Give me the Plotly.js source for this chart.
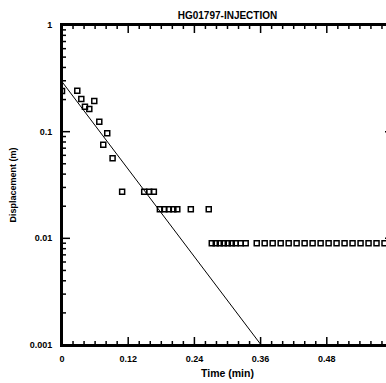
<!DOCTYPE html>
<html>
<head>
<meta charset="utf-8">
<script src="https://cdn.plot.ly/plotly-3.0.1.min.js"></script>
<style>
html, body { margin: 0; padding: 0; overflow: hidden; background: #fff; }
#chart { width: 400px; height: 383px; }
</style>
</head>
<body>
<div id="chart"></div>
<script>
// Observed data (time in min, displacement in m)
const obsTime = [0.0, 0.0277, 0.035, 0.0416, 0.0495, 0.0585, 0.0676, 0.0748, 0.082, 0.0917,
  0.109, 0.149, 0.158, 0.1665,
  0.1774, 0.1855, 0.1937, 0.2018, 0.209, 0.2335, 0.266,
  0.2715, 0.2787, 0.286, 0.2932, 0.3005, 0.3077, 0.3149, 0.324, 0.333,
  0.353, 0.3674, 0.3819, 0.3964, 0.4109, 0.4253, 0.4398, 0.4543, 0.4688, 0.4833,
  0.4977, 0.5122, 0.5267, 0.5412, 0.5557, 0.5701, 0.5846];
const obsDisp = [0.24, 0.242, 0.202, 0.171, 0.163, 0.194, 0.124, 0.0755, 0.0966, 0.0563,
  0.0274, 0.0274, 0.0274, 0.0274,
  0.0187, 0.0187, 0.0187, 0.0187, 0.0187, 0.0187, 0.0187,
  0.009, 0.009, 0.009, 0.009, 0.009, 0.009, 0.009, 0.009, 0.009,
  0.009, 0.009, 0.009, 0.009, 0.009, 0.009, 0.009, 0.009, 0.009, 0.009,
  0.009, 0.009, 0.009, 0.009, 0.009, 0.009, 0.009];

// Fitted straight line
const fitTime = [0.0, 0.361];
const fitDisp = [0.294, 0.001];

// Axis ticks
const xTickVals = [0, 0.12, 0.24, 0.36, 0.48, 0.6];
const xTickText = ['0', '0.12', '0.24', '0.36', '0.48', '0.6'];
const xMinorPerMajor = 6;
const yTickVals = [0.001, 0.01, 0.1, 1];
const yTickText = ['0.001', '0.01', '0.1', '1'];
const yMinorMult = [2, 3, 4, 5, 6, 7, 8, 9];

const titleText = 'HG01797-INJECTION';
const xTitle = 'Time (min)';
const yTitle = 'Displacement (m)';

const XR = [0, 0.6];
const YR = [-3, 0];
const font = { family: 'Liberation Sans, Arial, sans-serif', size: 9, color: '#000', weight: 'bold' };

// derived minor tick positions
const xMinor = [];
for (let i = 0; i < xTickVals.length - 1; i++) {
  const step = (xTickVals[i + 1] - xTickVals[i]) / xMinorPerMajor;
  for (let k = 1; k < xMinorPerMajor; k++) xMinor.push(xTickVals[i] + k * step);
}
const yMinor = [];
for (let i = 0; i < yTickVals.length - 1; i++) yMinorMult.forEach(m => yMinor.push(yTickVals[i] * m));

// tick marks drawn as pixel-sized shapes tied to the axes
const tickLine = { color: '#000', width: 1.5 };
const shapes = [];
function xTick(v, len) {
  shapes.push({ type: 'line', xref: 'x', yref: 'paper', ysizemode: 'pixel', yanchor: 0, x0: v, x1: v, y0: 0, y1: len, line: tickLine, layer: 'above' });
  shapes.push({ type: 'line', xref: 'x', yref: 'paper', ysizemode: 'pixel', yanchor: 1, x0: v, x1: v, y0: 0, y1: -len, line: tickLine, layer: 'above' });
}
function yTick(v, len) {
  shapes.push({ type: 'line', xref: 'paper', yref: 'y', xsizemode: 'pixel', xanchor: 0, x0: 0, x1: len, y0: v, y1: v, line: tickLine, layer: 'above' });
  shapes.push({ type: 'line', xref: 'paper', yref: 'y', xsizemode: 'pixel', xanchor: 1, x0: 0, x1: -len, y0: v, y1: v, line: tickLine, layer: 'above' });
}
xTickVals.forEach(v => xTick(v, 8));
xMinor.forEach(v => xTick(v, 4));
yTickVals.forEach(v => yTick(v, 8));
yMinor.forEach(v => yTick(v, 4));
shapes.push({ type: 'rect', xref: 'paper', yref: 'paper', x0: 0, x1: 1, y0: 0, y1: 1, line: { color: '#000', width: 2 }, layer: 'above' });

const traces = [
  {
    x: fitTime, y: fitDisp, mode: 'lines', type: 'scatter',
    line: { color: '#000', width: 1 }, hoverinfo: 'skip'
  },
  {
    x: obsTime, y: obsDisp, mode: 'markers', type: 'scatter',
    marker: { symbol: 'square-open', size: 5, color: '#000', line: { width: 1.5, color: '#000' } }
  }
];

const layout = {
  width: 400, height: 383,
  margin: { l: 62, r: 6.5, t: 25, b: 38 },
  paper_bgcolor: '#fff', plot_bgcolor: '#fff',
  showlegend: false,
  font: font,
  shapes: shapes,
  title: { text: titleText, font: { family: font.family, size: 10, color: '#000', weight: 'bold' },
           x: 0.5, xref: 'paper', xanchor: 'center', y: 1, yref: 'paper', yanchor: 'bottom', pad: { b: 6 } },
  xaxis: {
    range: XR, autorange: false, showgrid: false, zeroline: false,
    showline: true, linecolor: '#000', linewidth: 2, mirror: true,
    ticks: '', tickmode: 'array', tickvals: xTickVals, ticktext: xTickText, ticklabelstandoff: 4,
    tickfont: font,
    title: { text: xTitle, font: Object.assign({}, font, { size: 10.5 }), standoff: 7 }
  },
  yaxis: {
    type: 'log', range: YR, autorange: false, showgrid: false, zeroline: false,
    showline: true, linecolor: '#000', linewidth: 2, mirror: true,
    ticks: '', tickmode: 'array', tickvals: yTickVals, ticktext: yTickText, ticklabelstandoff: 6,
    tickfont: font,
    title: { text: yTitle, font: font, standoff: 12 }
  }
};

Plotly.newPlot('chart', traces, layout, { displayModeBar: false, staticPlot: true });
</script>
</body>
</html>
